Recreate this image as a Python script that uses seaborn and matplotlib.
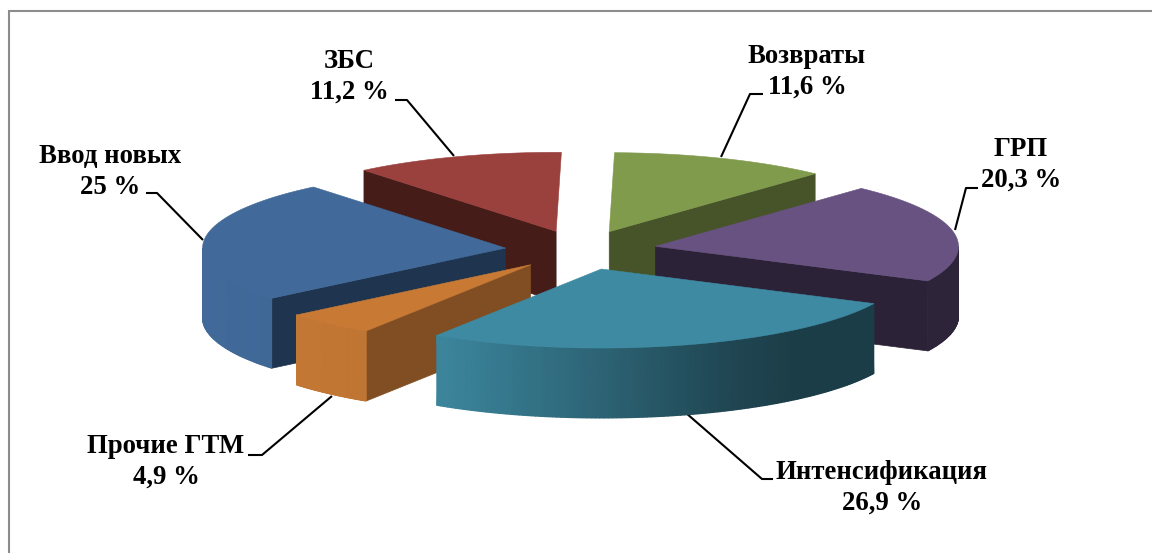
import numpy as np
import matplotlib
matplotlib.use('Agg')
import matplotlib.pyplot as plt
import seaborn as sns
from matplotlib.colors import LinearSegmentedColormap

labels = ['Возвраты', 'ГРП', 'Интенсификация', 'Прочие ГТМ', 'Ввод новых', 'ЗБС']
shares = [11.6, 20.3, 26.9, 4.9, 25.0, 11.2]
share_text = ['11,6 %', '20,3 %', '26,9 %', '4,9 %', '25 %', '11,2 %']
top_colors = ['#7f9b4b', '#685282', '#3e8aa2', '#c87a35', '#416a9a', '#9a403d']
face_colors = ['#47542a', '#2c2238', '#1a3d48', '#804e22', '#1e344f', '#451c18']

# back slices first, the front ones paint over them
draw_order = [5, 0, 4, 1, 3, 2]

label_xy = [(807, 72), (1021, 165), (882, 488), (166, 462), (110, 172), (349, 77)]
leaders = [
    [(721, 157), (750, 94), (763, 94)],
    [(955, 230), (966, 188), (978, 188)],
    [(686, 413), (762, 479), (773, 479)],
    [(332, 396), (262, 455), (248, 455)],
    [(203, 240), (157, 193), (146, 193)],
    [(454, 156), (407, 100), (395, 100)],
]

CX, CY = 581, 250
RX, RY = 303, 79
DEPTH = 70
EXPLODE = 0.25
START = np.radians(1)

sns.set_theme(style='white')
plt.rcParams['font.family'] = ['Liberation Serif', 'DejaVu Serif']

fig, ax = plt.subplots(figsize=(11.52, 5.53), dpi=100)
ax.set_position([0, 0, 1, 1])
ax.set_xlim(0, 1152)
ax.set_ylim(553, 0)
ax.axis('off')

# the frame is cut off in the picture, only top and left are left
ax.plot([9, 9, 1152], [553, 11, 11], color='#8c8c8c', lw=1.5, solid_joinstyle='miter')


def wall_shade(s):
    # light comes from the left, s is the sine of the angle round the pie
    return np.interp(s, [-1, -0.5, 0, 0.4, 0.65, 1], [1.0, 0.95, 0.72, 0.52, 0.44, 0.44])


edges = START + np.cumsum([0] + shares) / sum(shares) * 2 * np.pi

for i in draw_order:
    t0, t1 = edges[i], edges[i + 1]
    mid = (t0 + t1) / 2
    ox = CX + RX * EXPLODE * np.sin(mid)
    oy = CY - RY * EXPLODE * np.cos(mid)
    t = np.linspace(t0, t1, 120)
    px = ox + RX * np.sin(t)
    py = oy - RY * np.cos(t)

    # flat side faces that look towards the viewer, edge-on ones are skipped
    if np.sin(t0) < -0.05:
        ax.fill([ox, px[0], px[0], ox], [oy, py[0], py[0] + DEPTH, oy + DEPTH],
                color=face_colors[i], lw=0.5, zorder=2)
    if np.sin(t1) > 0.05:
        ax.fill([ox, px[-1], px[-1], ox], [oy, py[-1], py[-1] + DEPTH, oy + DEPTH],
                color=face_colors[i], lw=0.5, zorder=2)

    # curved wall, only the front part
    front = np.cos(t) <= 0
    if front.any():
        cmap = LinearSegmentedColormap.from_list('wall', ['black', top_colors[i]])
        wx = np.vstack([px[front], px[front]])
        wy = np.vstack([py[front], py[front] + DEPTH])
        shade = np.vstack([wall_shade(np.sin(t[front]))] * 2)
        ax.pcolormesh(wx, wy, shade, cmap=cmap, vmin=0, vmax=1, shading='gouraud', zorder=2)

    ax.fill(np.r_[ox, px], np.r_[oy, py], color=top_colors[i], lw=0.4, zorder=2)

for i in range(len(labels)):
    xs, ys = zip(*leaders[i])
    ax.plot(xs, ys, color='black', lw=1.5, zorder=1, solid_capstyle='butt')
    ax.text(label_xy[i][0], label_xy[i][1], labels[i] + '\n' + share_text[i], ha='center', va='center',
            fontsize=19.3, fontweight='bold', color='black', linespacing=1.33, zorder=3)

fig.savefig('out.png', dpi=100, facecolor='white')
